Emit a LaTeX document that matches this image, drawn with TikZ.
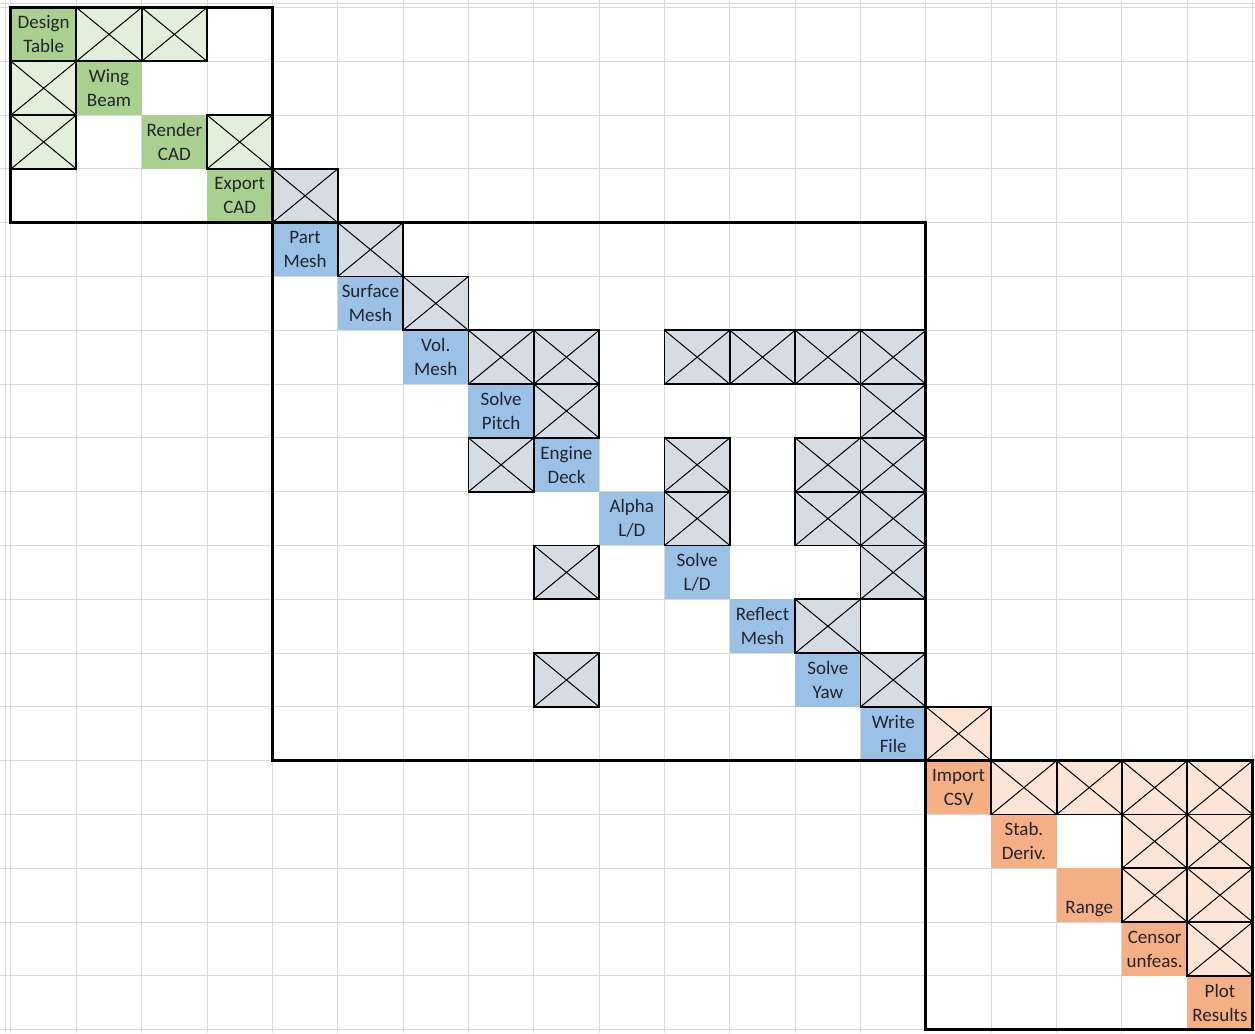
\documentclass[tikz,border=0pt]{standalone}
\usepackage{fontspec}
\setmainfont{Carlito}
\usepackage{xcolor}
\usetikzlibrary{positioning}

\definecolor{cadfill}{HTML}{A9D08E}
\definecolor{cadlight}{HTML}{E2EFDA}
\definecolor{meshfill}{HTML}{9BC2E6}
\definecolor{meshlight}{HTML}{D6DCE4}
\definecolor{postfill}{HTML}{F4B084}
\definecolor{postlight}{HTML}{FCE4D6}
\definecolor{gridgray}{HTML}{D9D9D9}
\definecolor{ink}{RGB}{35,35,45}

\begin{document}
\begin{tikzpicture}[
    x=32.675pt, y=-26.9pt,
    node distance=0pt and 0pt,
    task/.style={
      rectangle,
      inner sep=0pt,
      outer sep=0pt,
      minimum width=32.675pt,
      minimum height=26.9pt,
      align=center,
      text=ink,
      font=\fontsize{9.5}{12}\selectfont
    },
    cad/.style={task,fill=cadfill},
    mesh/.style={task,fill=meshfill},
    post/.style={task,fill=postfill},
    oneline/.style={text height=18.5pt,text depth=0pt},
    xcell/.style={draw,line width=0.9pt},
    xline/.style={line width=0.5pt},
    frame/.style={draw,line width=1.5pt},
    gridline/.style={gridgray,line width=0.5pt}
  ]
    % page and sheet grid
    \fill[white] (-0.1683,-0.139) rectangle (19.036,19.062);
    \useasboundingbox (-0.1683,-0.139) rectangle (19.036,19.062);
    \foreach \i in {0,...,19}
      \draw[gridline] (\i,-0.139) -- (\i,19.062);
    \foreach \j in {0,...,19}
      \draw[gridline] (-0.1683,\j) -- (19.036,\j);
    \draw[gridline] (-0.09,-0.139) -- (-0.09,19.062);
    \draw[gridline] (-0.1683,-0.08) -- (19.036,-0.08);

    % diagonal tasks
    \node[cad] (design) at (0.5,0.5) {Design\\Table};
    \node[cad,below right=of design] (wing) {Wing\\Beam};
    \node[cad,below right=of wing] (render) {Render\\CAD};
    \node[cad,below right=of render] (export) {Export\\CAD};
    \node[mesh,below right=of export] (part) {Part\\Mesh};
    \node[mesh,below right=of part] (surface) {Surface\\Mesh};
    \node[mesh,below right=of surface] (vol) {Vol.\\Mesh};
    \node[mesh,below right=of vol] (pitch) {Solve\\Pitch};
    \node[mesh,below right=of pitch] (engine) {Engine\\Deck};
    \node[mesh,below right=of engine] (alpha) {Alpha\\L/D};
    \node[mesh,below right=of alpha] (solveld) {Solve\\L/D};
    \node[mesh,below right=of solveld] (reflect) {Reflect\\Mesh};
    \node[mesh,below right=of reflect] (yaw) {Solve\\Yaw};
    \node[mesh,below right=of yaw] (write) {Write\\File};
    \node[post,below right=of write] (import) {Import\\CSV};
    \node[post,below right=of import] (stab) {Stab.\\Deriv.};
    \node[post,oneline,below right=of stab] (range) {Range};
    \node[post,below right=of range] (censor) {Censor\\unfeas.};
    \node[post,below right=of censor] (plot) {Plot\\Results};

    % dependency marks (row/column)
    \foreach \r/\c in {0/1,0/2,1/0,2/0,2/3} {
      \draw[xcell,fill=cadlight] (\c,\r) rectangle ++(1,1);
      \draw[xline] (\c,\r) -- ++(1,1) (\c+1,\r) -- ++(-1,1);
    }
    \foreach \r/\c in {3/4,4/5,5/6,6/7,6/8,6/10,6/11,6/12,6/13,7/8,7/13,
                       8/7,8/10,8/12,8/13,9/10,9/12,9/13,10/8,10/13,
                       11/12,12/8,12/13} {
      \draw[xcell,fill=meshlight] (\c,\r) rectangle ++(1,1);
      \draw[xline] (\c,\r) -- ++(1,1) (\c+1,\r) -- ++(-1,1);
    }
    \foreach \r/\c in {13/14,14/15,14/16,14/17,14/18,15/17,15/18,
                       16/17,16/18,17/18} {
      \draw[xcell,fill=postlight] (\c,\r) rectangle ++(1,1);
      \draw[xline] (\c,\r) -- ++(1,1) (\c+1,\r) -- ++(-1,1);
    }

    % module blocks
    \draw[frame] (0,0) rectangle (4,4);
    \draw[frame] (4,4) rectangle (14,14);
    \draw[frame] (14,14) rectangle (19,19);
  \end{tikzpicture}
\end{document}
